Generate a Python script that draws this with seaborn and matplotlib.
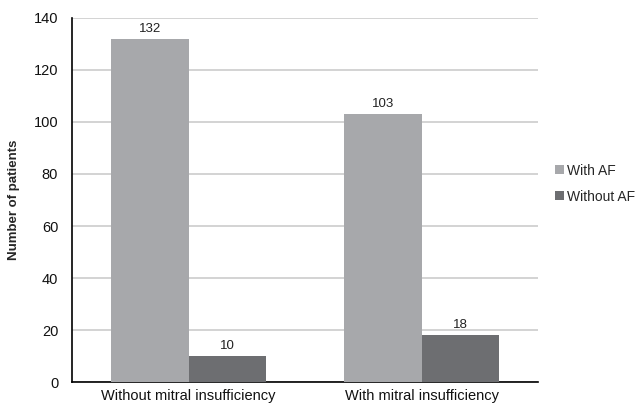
import matplotlib
matplotlib.use("Agg")
import matplotlib.pyplot as plt
import seaborn as sns
import pandas as pd

categories = ["Without mitral insufficiency", "With mitral insufficiency"]
groups = ["With AF", "Without AF"]
with_af = [132, 103]
without_af = [10, 18]

df = pd.DataFrame({
    "category": categories * 2,
    "group": [groups[0]] * 2 + [groups[1]] * 2,
    "count": with_af + without_af,
})

sns.set_theme(style="white")
plt.rcParams["font.family"] = ["Liberation Sans", "DejaVu Sans"]

fig = plt.figure(figsize=(6.43, 4.07), dpi=100)
ax = fig.add_axes([0.112, 0.0614, 0.725, 0.8944])

palette = {"With AF": "#a7a8ab", "Without AF": "#6d6e71"}
sns.barplot(data=df, x="category", y="count", hue="group", order=categories,
            hue_order=groups, palette=palette, width=0.667, saturation=1,
            ax=ax, zorder=3, linewidth=0)

for cont in ax.containers:
    ax.bar_label(cont, padding=3, fontsize=9.5, color="#222222")

ax.set_ylim(0, 140)
ax.set_yticks(range(0, 141, 20))
ax.grid(axis="y", color="#cccccc", linewidth=1.2, zorder=0)
ax.set_axisbelow(True)
ax.set_xlabel("")
ax.set_ylabel("Number of patients", fontsize=9.5, fontweight="bold", labelpad=10)
ax.tick_params(axis="both", labelsize=10.5, length=0, colors="#111111")
ax.tick_params(axis="x", pad=5)
ax.tick_params(axis="y", pad=10)

for s in ["top", "right"]:
    ax.spines[s].set_visible(False)
for s in ["left", "bottom"]:
    ax.spines[s].set_color("black")
    ax.spines[s].set_linewidth(1.2)

leg = ax.legend(loc="center left", bbox_to_anchor=(1.025, 0.545), frameon=False,
                fontsize=10, handlelength=0.6, handleheight=0.6, handletextpad=0.2,
                labelspacing=0.85, borderaxespad=0)

fig.savefig("out.png", dpi=100)
